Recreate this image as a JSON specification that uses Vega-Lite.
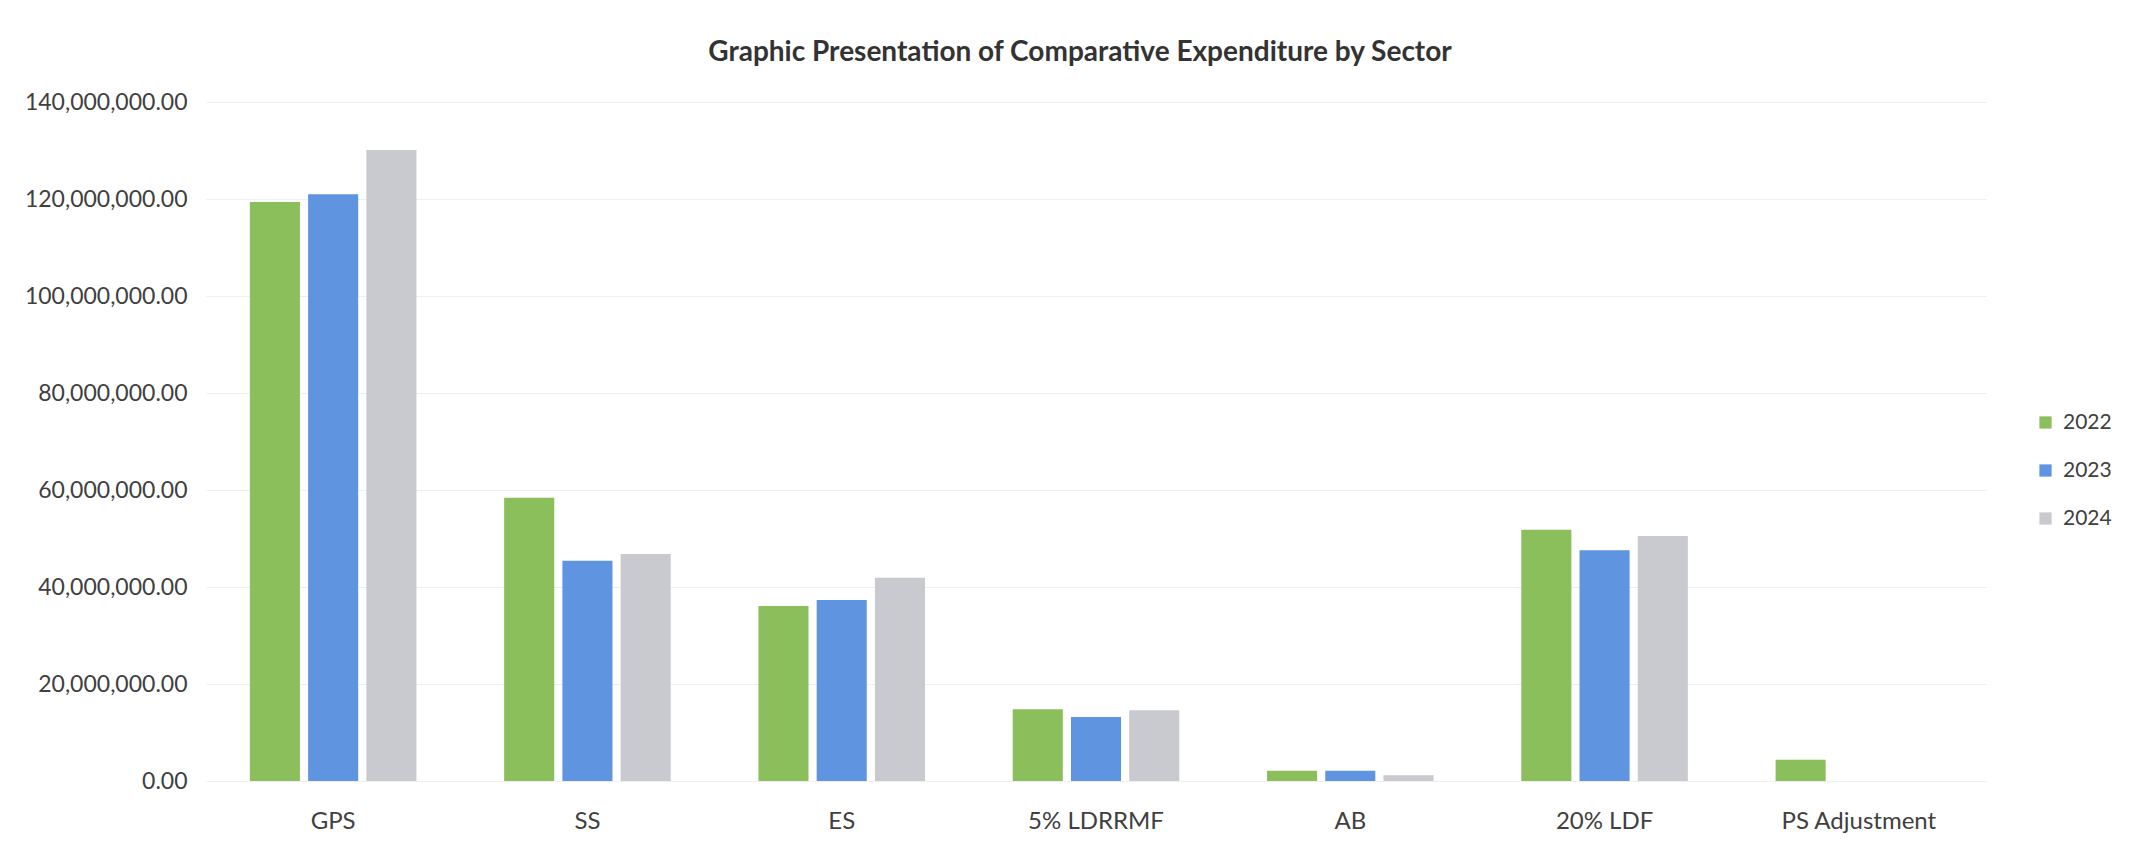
{
  "$schema": "https://vega.github.io/schema/vega-lite/v6.json",
  "autosize": {"type": "none"},
  "padding": {"left": 206, "top": 102, "right": 154, "bottom": 67},
  "width": 1780,
  "height": 679,
  "background": "white",
  "title": {
    "text": "Graphic Presentation of Comparative Expenditure by Sector",
    "font": "Lato",
    "fontSize": 28,
    "fontWeight": "bold",
    "color": "#333333",
    "anchor": "middle",
    "dx": -16,
    "offset": 24
  },
  "data": {
    "values": [
      {"sector": "GPS", "year": "2022", "amount": 119400000},
      {"sector": "GPS", "year": "2023", "amount": 121000000},
      {"sector": "GPS", "year": "2024", "amount": 130100000},
      {"sector": "SS", "year": "2022", "amount": 58400000},
      {"sector": "SS", "year": "2023", "amount": 45400000},
      {"sector": "SS", "year": "2024", "amount": 46800000},
      {"sector": "ES", "year": "2022", "amount": 36100000},
      {"sector": "ES", "year": "2023", "amount": 37300000},
      {"sector": "ES", "year": "2024", "amount": 41900000},
      {"sector": "5% LDRRMF", "year": "2022", "amount": 14800000},
      {"sector": "5% LDRRMF", "year": "2023", "amount": 13200000},
      {"sector": "5% LDRRMF", "year": "2024", "amount": 14600000},
      {"sector": "AB", "year": "2022", "amount": 2100000},
      {"sector": "AB", "year": "2023", "amount": 2100000},
      {"sector": "AB", "year": "2024", "amount": 1200000},
      {"sector": "20% LDF", "year": "2022", "amount": 51800000},
      {"sector": "20% LDF", "year": "2023", "amount": 47600000},
      {"sector": "20% LDF", "year": "2024", "amount": 50500000},
      {"sector": "PS Adjustment", "year": "2022", "amount": 4400000}
    ]
  },
  "mark": {"type": "bar"},
  "encoding": {
    "x": {
      "field": "sector",
      "type": "nominal",
      "sort": ["GPS", "SS", "ES", "5% LDRRMF", "AB", "20% LDF", "PS Adjustment"],
      "scale": {"paddingInner": 0.345, "paddingOuter": 0.1725},
      "axis": {
        "title": null,
        "labelAngle": 0,
        "labelFont": "Lato",
        "labelFontSize": 24,
        "labelColor": "#404040",
        "labelPadding": 28,
        "ticks": false,
        "domain": false,
        "grid": false
      }
    },
    "xOffset": {
      "field": "year",
      "type": "nominal",
      "scale": {"paddingInner": 0.14, "paddingOuter": 0}
    },
    "y": {
      "field": "amount",
      "type": "quantitative",
      "scale": {"domain": [0, 140000000], "nice": false},
      "axis": {
        "title": null,
        "values": [0, 20000000, 40000000, 60000000, 80000000, 100000000, 120000000, 140000000],
        "format": ",.2f",
        "labelFont": "Lato",
        "labelFontSize": 23,
        "labelColor": "#404040",
        "labelPadding": 19,
        "ticks": false,
        "domain": false,
        "grid": true,
        "gridColor": "#EFEFEF",
        "gridWidth": 1
      }
    },
    "color": {
      "field": "year",
      "type": "nominal",
      "scale": {"domain": ["2022", "2023", "2024"], "range": ["#8BBF5C", "#5F95E0", "#C9CACF"]},
      "legend": {
        "title": null,
        "orient": "none",
        "legendX": 1829,
        "legendY": 310,
        "padding": 0,
        "symbolType": "square",
        "symbolSize": 150,
        "symbolStrokeWidth": 0,
        "labelFont": "Lato",
        "labelFontSize": 21,
        "labelColor": "#404040",
        "labelOffset": 7,
        "rowPadding": 26
      }
    }
  },
  "config": {"view": {"stroke": null}}
}
